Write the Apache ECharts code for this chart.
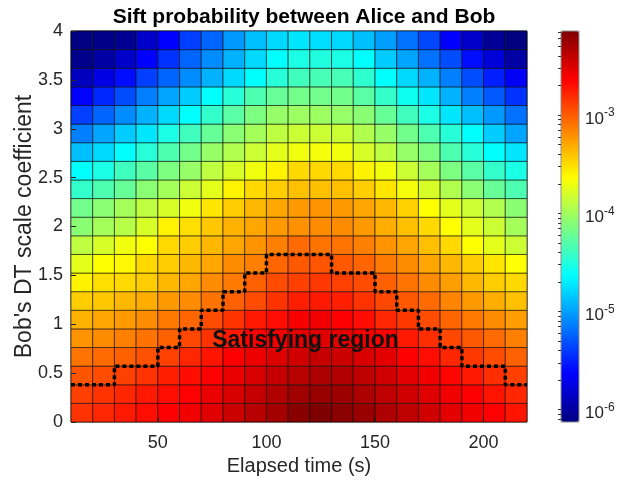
<!DOCTYPE html>
<html>
<head>
<meta charset="utf-8">
<title>Sift probability between Alice and Bob</title>
<script src="https://cdn.jsdelivr.net/npm/echarts@6/dist/echarts.min.js"></script>
<style>
  html, body { margin: 0; padding: 0; background: #fff; }
  #chart { width: 619px; height: 487px; }
</style>
</head>
<body>
<div id="chart"></div>
<script>
// cell edges: elapsed time (s) and Bob's DT scale coefficient
const timeEdges = [10, 20, 30, 40, 50, 60, 70, 80, 90, 100, 110, 120, 130, 140, 150, 160, 170, 180, 190, 200, 210, 220];
const scaleEdges = [0, 0.1905, 0.381, 0.5714, 0.7619, 0.9524, 1.1429, 1.3333, 1.5238, 1.7143, 1.9048,
  2.0952, 2.2857, 2.4762, 2.6667, 2.8571, 3.0476, 3.2381, 3.4286, 3.619, 3.8095, 4];

// log10 of the sift probability, one array per row of cells (bottom row first)
const sift00 = [-2.84, -2.79, -2.74, -2.69, -2.64, -2.59, -2.52, -2.44, -2.36, -2.29, -2.18, -2.14, -2.19, -2.24, -2.32, -2.39, -2.46, -2.54, -2.59, -2.64, -2.72];
const sift01 = [-2.89, -2.84, -2.79, -2.74, -2.69, -2.64, -2.56, -2.49, -2.42, -2.34, -2.27, -2.24, -2.26, -2.32, -2.39, -2.46, -2.52, -2.59, -2.64, -2.72, -2.79];
const sift02 = [-2.97, -2.94, -2.89, -2.84, -2.76, -2.69, -2.64, -2.56, -2.49, -2.42, -2.36, -2.32, -2.34, -2.39, -2.46, -2.54, -2.59, -2.66, -2.74, -2.82, -2.89];
const sift03 = [-3.09, -3.06, -3.02, -2.96, -2.89, -2.79, -2.72, -2.64, -2.57, -2.51, -2.46, -2.42, -2.44, -2.49, -2.54, -2.64, -2.69, -2.79, -2.86, -2.94, -3.02];
const sift04 = [-3.22, -3.19, -3.14, -3.09, -3.02, -2.92, -2.84, -2.74, -2.64, -2.59, -2.54, -2.52, -2.54, -2.59, -2.64, -2.74, -2.82, -2.92, -2.99, -3.06, -3.14];
const sift05 = [-3.34, -3.29, -3.24, -3.19, -3.12, -3.04, -2.94, -2.84, -2.74, -2.69, -2.61, -2.59, -2.64, -2.69, -2.79, -2.86, -2.94, -3.04, -3.12, -3.19, -3.26];
const sift06 = [-3.44, -3.42, -3.36, -3.32, -3.24, -3.19, -3.09, -3.02, -2.94, -2.84, -2.76, -2.74, -2.76, -2.84, -2.92, -2.99, -3.06, -3.16, -3.24, -3.32, -3.39];
const sift07 = [-3.59, -3.51, -3.49, -3.44, -3.36, -3.29, -3.19, -3.12, -3.02, -2.94, -2.89, -2.86, -2.89, -2.94, -3.02, -3.09, -3.19, -3.26, -3.36, -3.44, -3.49];
const sift08 = [-3.74, -3.64, -3.61, -3.49, -3.44, -3.36, -3.29, -3.19, -3.14, -3.04, -2.99, -2.97, -2.99, -3.04, -3.12, -3.19, -3.29, -3.36, -3.44, -3.54, -3.64];
const sift09 = [-3.89, -3.79, -3.69, -3.64, -3.49, -3.44, -3.36, -3.29, -3.22, -3.14, -3.06, -3.09, -3.09, -3.14, -3.22, -3.29, -3.39, -3.49, -3.64, -3.74, -3.84];
const sift10 = [-4.09, -3.99, -3.92, -3.79, -3.59, -3.51, -3.42, -3.34, -3.29, -3.24, -3.21, -3.19, -3.19, -3.24, -3.32, -3.39, -3.49, -3.64, -3.74, -3.84, -3.99];
const sift11 = [-4.18, -4.09, -3.99, -3.89, -3.79, -3.69, -3.54, -3.44, -3.36, -3.29, -3.24, -3.22, -3.24, -3.29, -3.36, -3.46, -3.64, -3.74, -3.84, -3.94, -4.09];
const sift12 = [-4.43, -4.33, -4.23, -4.09, -3.99, -3.84, -3.74, -3.59, -3.49, -3.44, -3.39, -3.39, -3.39, -3.44, -3.54, -3.67, -3.79, -3.94, -4.09, -4.23, -4.33];
const sift13 = [-4.63, -4.53, -4.38, -4.28, -4.14, -4.04, -3.89, -3.79, -3.69, -3.59, -3.49, -3.49, -3.49, -3.59, -3.69, -3.84, -3.99, -4.14, -4.28, -4.43, -4.53];
const sift14 = [-4.88, -4.78, -4.63, -4.48, -4.33, -4.18, -4.04, -3.94, -3.84, -3.74, -3.69, -3.67, -3.69, -3.79, -3.89, -4.04, -4.14, -4.33, -4.48, -4.63, -4.73];
const sift15 = [-5.13, -4.98, -4.83, -4.73, -4.53, -4.38, -4.23, -4.09, -3.99, -3.89, -3.84, -3.84, -3.84, -3.94, -4.04, -4.18, -4.33, -4.48, -4.63, -4.83, -4.98];
const sift16 = [-5.38, -5.23, -5.08, -4.93, -4.78, -4.63, -4.43, -4.28, -4.14, -4.04, -4.02, -4.02, -4.04, -4.09, -4.23, -4.38, -4.53, -4.73, -4.88, -5.03, -5.18];
const sift17 = [-5.63, -5.48, -5.33, -5.13, -4.98, -4.83, -4.63, -4.48, -4.33, -4.23, -4.18, -4.18, -4.18, -4.28, -4.43, -4.58, -4.73, -4.93, -5.13, -5.28, -5.43];
const sift18 = [-5.88, -5.73, -5.58, -5.38, -5.23, -5.08, -4.93, -4.78, -4.63, -4.48, -4.38, -4.35, -4.35, -4.45, -4.63, -4.78, -4.93, -5.13, -5.33, -5.51, -5.66];
const sift19 = [-6.08, -5.98, -5.83, -5.63, -5.43, -5.23, -5.08, -4.93, -4.78, -4.63, -4.53, -4.51, -4.53, -4.63, -4.83, -4.98, -5.18, -5.33, -5.58, -5.78, -5.98];
const sift20 = [-6.12, -6.09, -6.05, -5.83, -5.63, -5.38, -5.23, -5.03, -4.88, -4.78, -4.73, -4.76, -4.78, -4.88, -5.01, -5.18, -5.35, -5.63, -5.83, -6.03, -6.12];
const siftRows = [sift00, sift01, sift02, sift03, sift04, sift05, sift06, sift07, sift08, sift09, sift10,
  sift11, sift12, sift13, sift14, sift15, sift16, sift17, sift18, sift19, sift20];

// staircase edge of the satisfying region (step drawn at each new time)
const boundaryTime = [10, 30, 50, 60, 70, 80, 90, 100, 130, 150, 160, 170, 180, 190, 210, 220];
const boundaryScale = [0.381, 0.5714, 0.7619, 0.9524, 1.1429, 1.3333, 1.5238, 1.7143, 1.5238, 1.3333, 1.1429, 0.9524, 0.7619, 0.5714, 0.381, 0.381];

// annotation anchor (time, DT scale)
const regionLabel = [[118, 0.83]];

const xTicks = [50, 100, 150, 200];
const colorbarExps = [-6, -5, -4, -3];
const logMin = -6.125, logMax = -2.143;
const jet = ['#00007f', '#0000ff', '#007fff', '#00ffff', '#7fff7f', '#ffff00', '#ff7f00', '#ff0000', '#7f0000'];

const cells = [];
siftRows.forEach((row, j) => {
  row.forEach((v, i) => {
    cells.push([timeEdges[i], timeEdges[i + 1], scaleEdges[j], scaleEdges[j + 1], v]);
  });
});

// colorbar ticks at every k * 10^n
const cbTicks = [];
for (let n = -7; n <= -3; n++) {
  for (let k = 1; k <= 9; k++) {
    const t = n + Math.log10(k);
    if (t > logMin && t < logMax) cbTicks.push(t);
  }
}

const font = "'Liberation Sans', Arial, Helvetica, sans-serif";
const ink = '#262626';

const cbAxis = (extra) => Object.assign({
  gridIndex: 1,
  type: 'value',
  min: logMin,
  max: logMax,
  position: 'right',
  offset: 0,
  axisLine: { show: false },
  axisTick: { show: false },
  splitLine: { show: false },
  z: 11
}, extra);

const chart = echarts.init(document.getElementById('chart'));
chart.setOption({
  animation: false,
  textStyle: { fontFamily: font },
  title: {
    text: 'Sift probability between Alice and Bob',
    left: 299,
    top: 2,
    textAlign: 'center',
    textStyle: { fontSize: 21, fontWeight: 'bold', color: '#000', fontFamily: font }
  },
  grid: [
    { left: 71, top: 31, width: 456, height: 391, show: true, borderColor: ink, borderWidth: 1, backgroundColor: 'transparent' },
    { left: 561, top: 31, width: 18, height: 391, show: true, borderColor: '#8c8c8c', borderWidth: 1, backgroundColor: 'transparent', z: 10 }
  ],
  xAxis: [
    {
      type: 'value',
      min: 10,
      max: 220,
      name: 'Elapsed time (s)',
      nameLocation: 'middle',
      nameGap: 34,
      nameTextStyle: { fontSize: 20, color: ink },
      axisLine: { show: false },
      axisTick: { show: true, inside: true, length: 5, lineStyle: { color: ink }, customValues: xTicks },
      axisLabel: { fontSize: 18, color: ink, margin: 12, customValues: xTicks },
      splitLine: { show: false },
      z: 5
    },
    { gridIndex: 1, type: 'value', min: 0, max: 1, show: false }
  ],
  yAxis: [
    {
      type: 'value',
      min: 0,
      max: 4,
      interval: 0.5,
      name: "Bob's DT scale coefficient",
      nameLocation: 'middle',
      nameGap: 35,
      nameMoveOverlap: false,
      nameTextStyle: { fontSize: 23, color: ink },
      axisLine: { show: false },
      axisTick: { show: true, inside: true, length: 5, lineStyle: { color: ink } },
      axisLabel: { fontSize: 18, color: ink, margin: 8 },
      splitLine: { show: false },
      z: 5
    },
    cbAxis({
      axisTick: { show: true, inside: true, length: 3, lineStyle: { color: '#333' }, customValues: cbTicks },
      axisLabel: {
        margin: 6,
        fontSize: 17,
        color: ink,
        lineHeight: 8,
        verticalAlign: 'top',
        customValues: colorbarExps,
        formatter: () => '10'
      }
    }),
    cbAxis({
      axisLabel: {
        margin: 25,
        fontSize: 12,
        color: ink,
        lineHeight: 4,
        verticalAlign: 'bottom',
        customValues: colorbarExps,
        formatter: v => String(v)
      }
    })
  ],
  visualMap: {
    type: 'continuous',
    seriesIndex: 0,
    dimension: 4,
    min: logMin,
    max: logMax,
    calculable: false,
    hoverLink: false,
    left: 561,
    top: 31,
    itemWidth: 18,
    itemHeight: 391,
    padding: 0,
    text: null,
    inRange: { color: jet }
  },
  series: [
    {
      type: 'custom',
      xAxisIndex: 0,
      yAxisIndex: 0,
      silent: true,
      encode: { x: [0, 1], y: [2, 3] },
      data: cells,
      renderItem: function (params, api) {
        const a = api.coord([api.value(0), api.value(3)]);
        const b = api.coord([api.value(1), api.value(2)]);
        return {
          type: 'rect',
          shape: { x: a[0], y: a[1], width: b[0] - a[0], height: b[1] - a[1] },
          style: { fill: api.visual('color'), stroke: 'rgba(0,0,0,0.7)', lineWidth: 0.8 }
        };
      }
    },
    {
      type: 'line',
      xAxisIndex: 0,
      yAxisIndex: 0,
      silent: true,
      step: 'end',
      symbol: 'none',
      data: boundaryTime.map((t, i) => [t, boundaryScale[i]]),
      lineStyle: { color: '#000', width: 3.5, type: [4, 3], cap: 'butt' },
      z: 6
    },
    {
      type: 'custom',
      xAxisIndex: 0,
      yAxisIndex: 0,
      silent: true,
      data: regionLabel,
      renderItem: function (params, api) {
        const p = api.coord([api.value(0), api.value(1)]);
        return {
          type: 'text',
          x: p[0],
          y: p[1],
          style: {
            text: 'Satisfying region',
            fill: '#111',
            font: 'bold 23px ' + font,
            align: 'center',
            verticalAlign: 'middle'
          }
        };
      },
      z: 7
    }
  ]
});
</script>
</body>
</html>
